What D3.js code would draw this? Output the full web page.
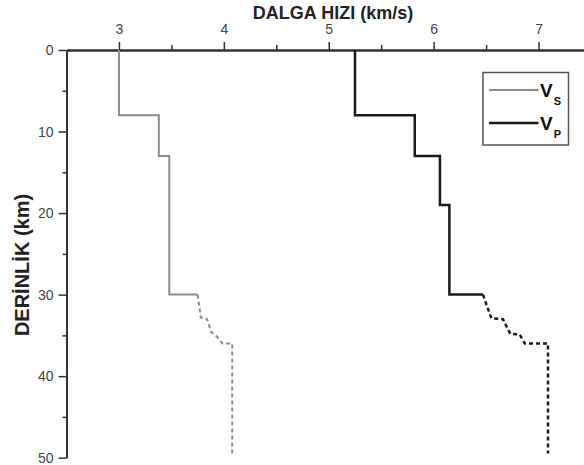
<!DOCTYPE html>
<html>
<head>
<meta charset="utf-8">
<script src="https://cdn.jsdelivr.net/npm/d3@7"></script>
<style>
  body { margin: 0; background: #fff; }
  svg { display: block; font-family: "Liberation Sans", Arial, sans-serif; }
</style>
</head>
<body>
<svg width="584" height="465"></svg>
<script>
// layer tops (km) and velocities (km/s)
const vsDepth = [0, 8, 13, 30]
const vsVel = [3.0, 3.38, 3.48, 3.75]
const vpDepth = [0, 8, 13, 19, 30]
const vpVel = [5.25, 5.82, 6.06, 6.15, 6.47]

// dashed lower part (transition to mantle)
const vsDashDepth = [30, 32.8, 33, 34.6, 35.1, 36, 36, 49.5]
const vsDashVel = [3.75, 3.78, 3.84, 3.88, 3.93, 3.99, 4.08, 4.08]
const vpDashDepth = [30, 32.9, 33, 34.8, 34.9, 36, 36, 49.5]
const vpDashVel = [6.47, 6.55, 6.66, 6.73, 6.82, 6.87, 7.09, 7.09]

const xTicks = [3, 4, 5, 6, 7]
const xMinor = [3.5, 4.5, 5.5, 6.5, 7.5]
const yTicks = [0, 10, 20, 30, 40, 50]
const yMinor = [5, 15, 25, 35, 45]

const svg = d3.select('svg')
const axisColor = '#333'

const x = d3.scaleLinear().domain([2.5, 7.5]).range([66.5, 591])
const y = d3.scaleLinear().domain([0, 50]).range([50, 457.7])

// top axis
const xAxis = svg.append('g')
  .attr('transform', `translate(0,${y(0)})`)
  .call(d3.axisTop(x).tickValues(xTicks).tickFormat(d3.format('d'))
    .tickSize(8).tickSizeOuter(0).tickPadding(8))
xAxis.append('g')
  .call(d3.axisTop(x).tickValues(xMinor).tickSize(5).tickSizeOuter(0).tickFormat(''))
xAxis.selectAll('.domain').attr('stroke', axisColor).attr('stroke-width', 2)
xAxis.selectAll('line').attr('stroke', axisColor).attr('stroke-width', 1.5)
xAxis.selectAll('text').attr('font-size', 14).attr('fill', '#444')
  .attr('font-family', '"Liberation Sans", Arial, sans-serif')

// left axis
const yAxis = svg.append('g')
  .attr('transform', `translate(${x(2.5)},0)`)
  .call(d3.axisLeft(y).tickValues(yTicks).tickFormat(d3.format('d'))
    .tickSize(8).tickSizeOuter(0).tickPadding(5))
yAxis.append('g')
  .call(d3.axisLeft(y).tickValues(yMinor).tickSize(4).tickSizeOuter(0).tickFormat(''))
yAxis.selectAll('.domain').attr('stroke', axisColor).attr('stroke-width', 2)
yAxis.selectAll('line').attr('stroke', axisColor).attr('stroke-width', 1.5)
yAxis.selectAll('text').attr('font-size', 14).attr('fill', '#444')
  .attr('font-family', '"Liberation Sans", Arial, sans-serif')

// titles
svg.append('text')
  .attr('x', 333).attr('y', 18.5)
  .attr('text-anchor', 'middle')
  .attr('font-size', 18).attr('font-weight', 'bold').attr('fill', '#222')
  .text('DALGA HIZI (km/s)')

svg.append('text')
  .attr('transform', 'translate(28.5,265) rotate(-90)')
  .attr('text-anchor', 'middle')
  .attr('font-size', 20).attr('font-weight', 'bold').attr('fill', '#222')
  .text('DERİNLİK (km)')

// profiles
const stepLine = d3.line()
  .curve(d3.curveStepBefore)
  .x((d) => x(d[0]))
  .y((d) => y(d[1]))
const plainLine = d3.line()
  .x((d) => x(d[0]))
  .y((d) => y(d[1]))

const series = [
  { vel: vsVel, depth: vsDepth, dVel: vsDashVel, dDepth: vsDashDepth, color: '#8c8c8c', w: 2 },
  { vel: vpVel, depth: vpDepth, dVel: vpDashVel, dDepth: vpDashDepth, color: '#1a1a1a', w: 2.5 }
]

series.forEach((s) => {
  svg.append('path')
    .datum(d3.zip(s.vel, s.depth))
    .attr('d', stepLine)
    .attr('fill', 'none')
    .attr('stroke', s.color)
    .attr('stroke-width', s.w)
  svg.append('path')
    .datum(d3.zip(s.dVel, s.dDepth))
    .attr('d', plainLine)
    .attr('fill', 'none')
    .attr('stroke', s.color)
    .attr('stroke-width', s.w)
    .attr('stroke-dasharray', '4,3')
})

// legend
const lg = svg.append('g')
lg.append('rect')
  .attr('x', 483).attr('y', 72.5).attr('width', 85.5).attr('height', 72.5)
  .attr('fill', '#fff').attr('stroke', '#555').attr('stroke-width', 1.5)

const legendItems = [
  { name: 'V', sub: 'S', color: '#8c8c8c', w: 2, yy: 90 },
  { name: 'V', sub: 'P', color: '#1a1a1a', w: 2.5, yy: 123 }
]
legendItems.forEach((d) => {
  lg.append('line')
    .attr('x1', 489).attr('x2', 538.5).attr('y1', d.yy).attr('y2', d.yy)
    .attr('stroke', d.color).attr('stroke-width', d.w)
  const t = lg.append('text')
    .attr('x', 540).attr('y', d.yy + 7)
    .attr('font-size', 19).attr('font-weight', 'bold').attr('fill', '#111')
  t.append('tspan').text(d.name)
  t.append('tspan').attr('dy', 8).attr('dx', 1).attr('font-size', 11).text(d.sub)
})
</script>
</body>
</html>
